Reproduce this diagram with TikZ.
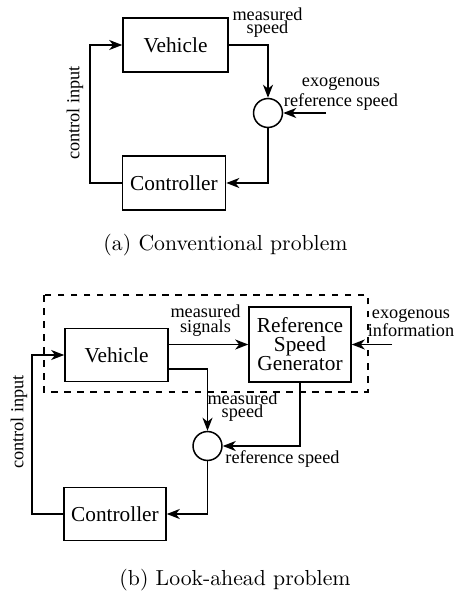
\documentclass[tikz,border=0pt]{standalone}
\usepackage{fontspec}
\newfontfamily\diafont{Liberation Serif}
\usetikzlibrary{arrows.meta,calc}
\lineskiplimit=-\maxdimen

\begin{document}
\begin{tikzpicture}[x=0.46pt,y=-0.46pt,line join=miter,line width=.8pt,
  >={Stealth[length=6pt,width=4.6pt,inset=1.8pt]},
  block/.style={draw,line width=.7pt,inner sep=0pt,minimum width=47.4pt,minimum height=24.4pt,font=\diafont\fontsize{9.8}{8.7}\selectfont,align=center},
  sumnode/.style={draw,circle,line width=.7pt,inner sep=0pt,minimum size=13.3pt},
  lbl/.style={inner sep=0pt,align=center,font=\diafont\fontsize{8.4}{9.2}\selectfont},
  capt/.style={inner sep=0pt,font=\normalsize}]
\path[use as bounding box] (0,0) rectangle (454,594);
% (a) conventional problem
\node[block,minimum width=48.3pt,minimum height=24.8pt] (veh1) at (175.5,45) {Vehicle};
\node[block,minimum height=24.8pt] (ctrl1) at (174,183) {Controller};
\node[sumnode] (sum1) at (268,113) {};
\coordinate (exo1) at (326,113);
\draw[->] (veh1.east) -| (sum1.north);
\draw[->] (exo1) -- (sum1.east);
\draw[->] (sum1.south) |- (ctrl1.east);
\draw[->] (ctrl1.west) -- ++(-32,0) |- (veh1.west);
\node[lbl] (meas1) at (267.5,23) {measured\\[-3.2pt]speed};
\node[lbl] (ref1) at (341,93.5) {exogenous\\reference speed};
\node[lbl,rotate=90] (ctrlin1) at (75,113) {control input};
\node[capt] (capa) at (225.5,245) {(a) Conventional problem};
% (b) look-ahead problem
\draw[dashed] (44,295) rectangle (368,392);
\node[block] (veh2) at (116.5,355) {Vehicle};
\node[block,minimum width=46.9pt,minimum height=34.5pt] (rsg) at (300,344.5) {Reference\\Speed\\Generator};
\node[sumnode] (sum2) at (207.5,446) {};
\node[block,minimum width=46.9pt] (ctrl2) at (115,514) {Controller};
\coordinate (exo2) at (392,344.5);
\draw[->] (veh2.east |- rsg.west) -- (rsg.west);
\draw[->] (exo2) -- (rsg.east);
\draw[->] ($(veh2.east)+(0,14)$) -| (sum2.north);
\draw[->] (rsg.south) |- (sum2.east);
\draw[->] (sum2.south) |- (ctrl2.east);
\draw[->] (ctrl2.west) -- ++(-31,0) |- (veh2.west);
\node[lbl] (meas2) at (205.5,321) {measured\\[-2.3pt]signals};
\node[lbl] (meas3) at (242.5,407) {measured\\[-3.3pt]speed};
\node[lbl] (ref2) at (282.5,459.5) {reference speed};
\node[lbl] (exoinf) at (411,323) {exogenous\\[-0.9pt]information};
\node[lbl,rotate=90] (ctrlin2) at (19,422) {control input};
\node[capt] (capb) at (235,580) {(b) Look-ahead problem};
\end{tikzpicture}
\end{document}
